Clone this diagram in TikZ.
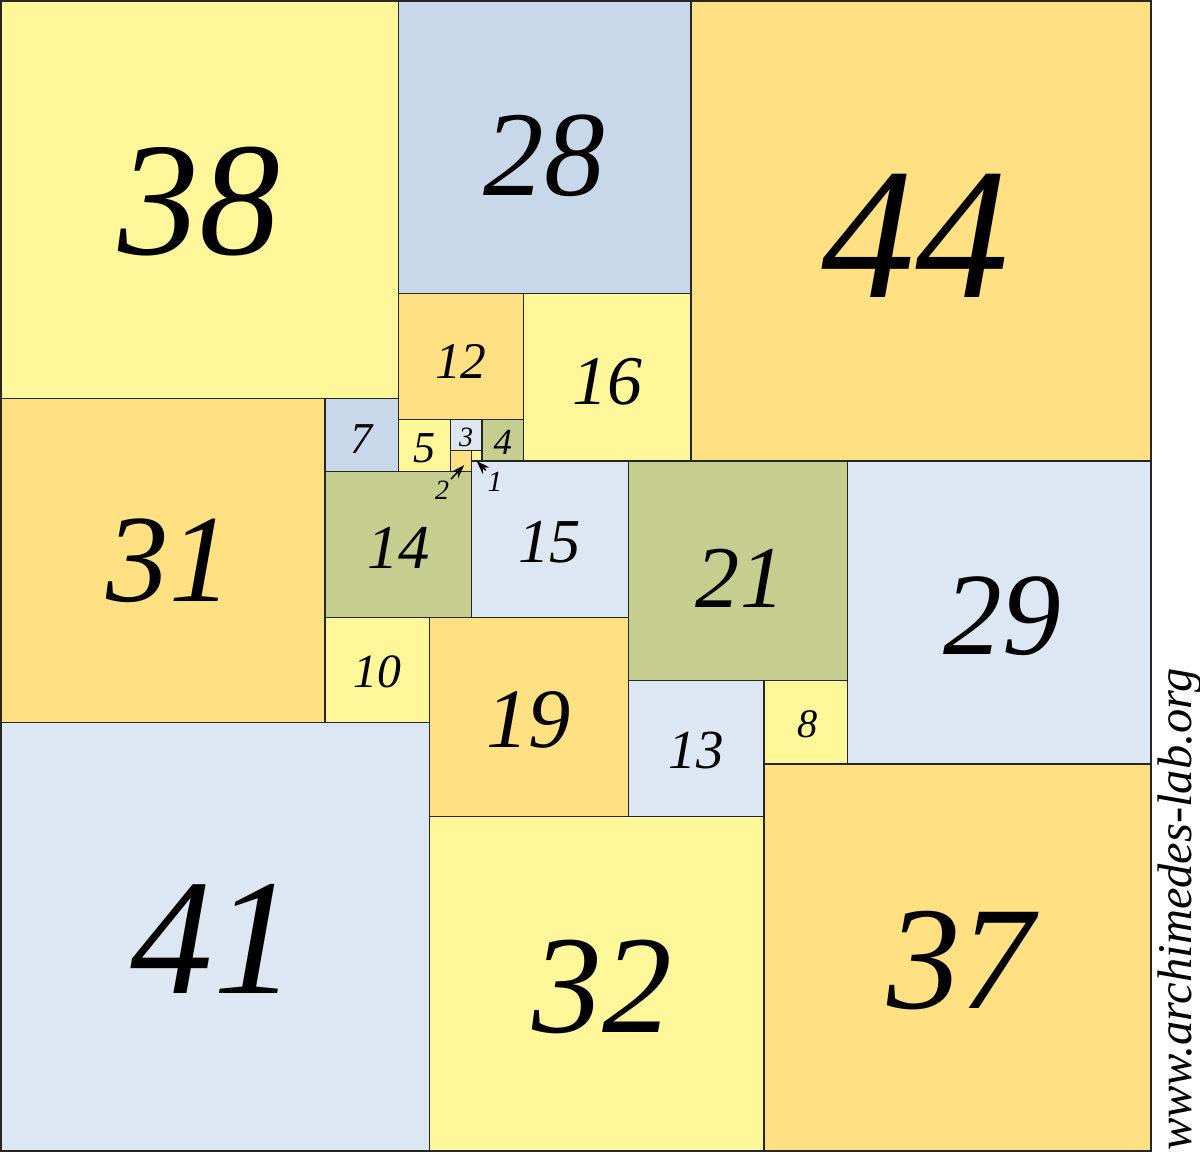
\documentclass[tikz,border=0pt]{standalone}
\usepackage{fontspec}
\setmainfont{Liberation Serif}
\usepackage{tikz}
\usetikzlibrary{arrows.meta}

\definecolor{pale}{HTML}{FFF799}
\definecolor{gold}{HTML}{FFE083}
\definecolor{slate}{HTML}{C9D7EA}
\definecolor{sky}{HTML}{DDE7F3}
\definecolor{olive}{HTML}{C5CE8F}

\tikzset{
  tile/.style={draw=black!85, line width=0.35pt},
  pointer/.style={-{Stealth[length=1.3mm,width=0.9mm]}, line width=0.4pt},
}

\begin{document}
\begin{tikzpicture}[x=1mm,y=-1mm]
    \useasboundingbox (-0.1,-0.1) rectangle (114.7,110.56);
    % x/y/side/colour/font size/label shift
    \foreach \x/\y/\s/\c/\f/\dx/\dy in {
      0/0/38/pale/44/0/0.2, 38/0/28/slate/33/0/0.8, 66/0/44/gold/51/-0.5/0.5,
      38/28/12/gold/14/0/0.5, 50/28/16/pale/19/0/0.4,
      0/38/31/gold/34/0.6/0, 31/38/7/slate/12/0/0.4, 38/40/5/pale/12/0/0.3,
      43/40/3/sky/7.6/0/0.2, 46/40/4/olive/10/0/0.2,
      31/45/14/olive/17/0/0.3, 45/44/15/sky/17/0/0.3,
      60/44/21/olive/24/0.2/0.7, 81/44/29/sky/32/0.3/0.3,
      31/59/10/pale/13/0/0.2, 41/59/19/gold/23/0/0.3,
      60/65/13/sky/15/0/0.2, 73/65/8/pale/11/0.2/0.2,
      0/69/41/sky/45/-0.2/0.2, 41/78/32/pale/38/0.5/0.3, 73/73/37/gold/40/0.3/0.3}
    {
      \filldraw[tile, fill=\c] (\x,\y) rectangle ++(\s,\s);
      \node[font=\fontsize{\f}{\f}\selectfont\itshape, inner sep=0pt] (sq\s) at (\x+\s/2+\dx,\y+\s/2+\dy) {\s};
    }
    % the two smallest ones
    \filldraw[tile, fill=gold] (43,43) rectangle ++(2,2);
    \filldraw[tile, fill=pale] (45,43) rectangle ++(1,1);
    \coordinate (sq2) at (44.3,44.4);
    \coordinate (sq1) at (45.5,44.0);
    \node[font=\fontsize{7.6}{7.6}\selectfont\itshape, inner sep=0.3pt] (lab2) at (42.2,46.8) {2};
    \node[font=\fontsize{8}{8}\selectfont\itshape, inner sep=0.3pt] (lab1) at (47.25,46.0) {1};
    \draw[pointer] (lab2.north east) -- (sq2);
    \draw[pointer] (lab1.north west) -- (sq1);
    % frame
    \draw[line width=0.6pt, draw=black!85] (0,0) rectangle (110,110);
    \node[rotate=90, font=\fontsize{13.2}{13.2}\selectfont\itshape] (web) at (112.8,86.9) {www.archimedes-lab.org};
\end{tikzpicture}
\end{document}
